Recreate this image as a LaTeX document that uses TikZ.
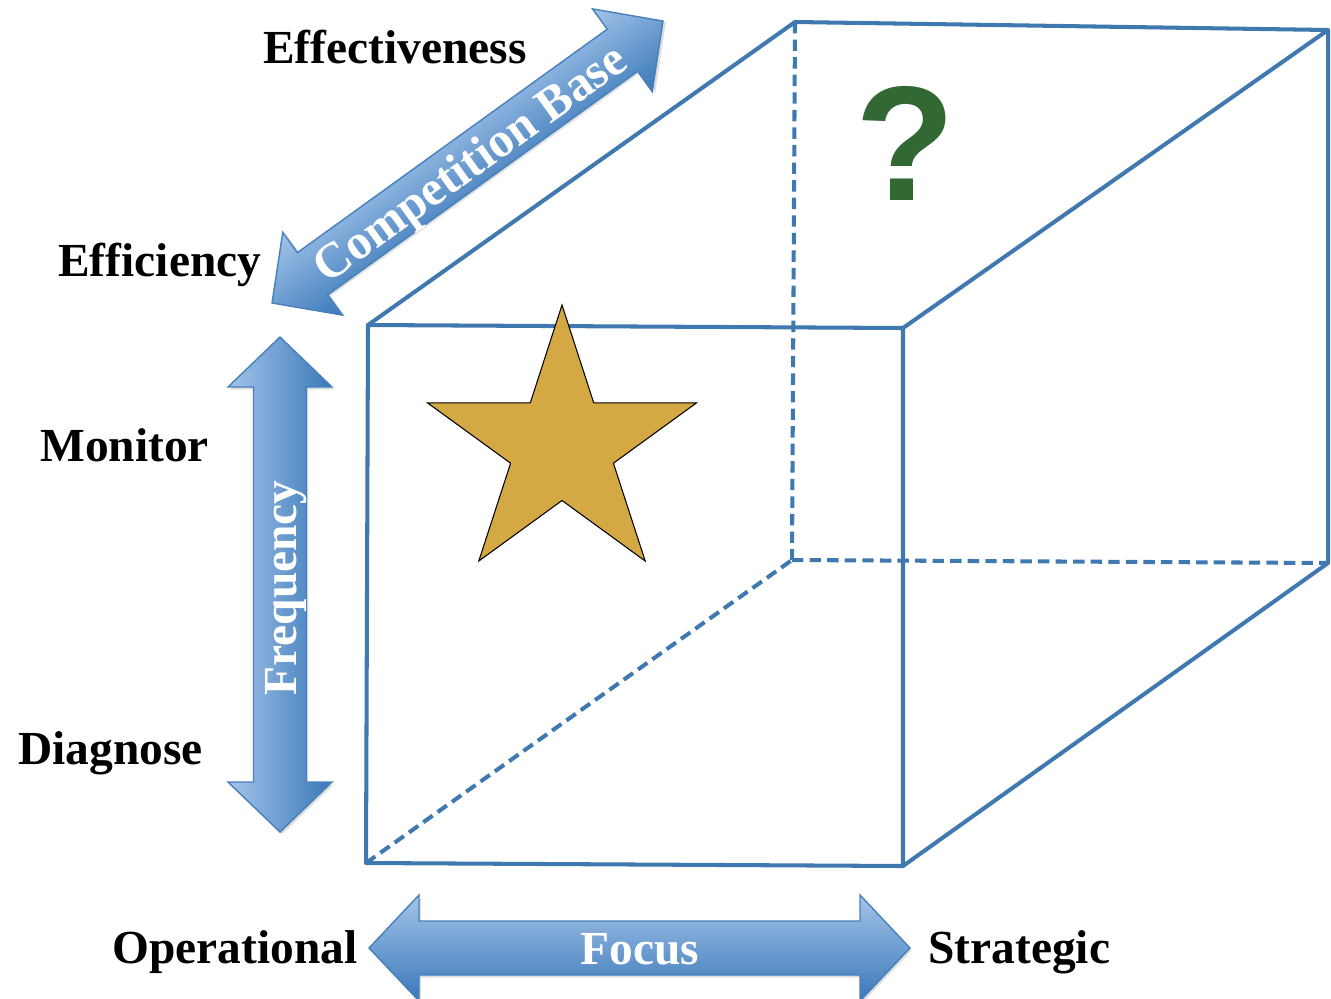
\documentclass[tikz,border=0pt]{standalone}
\usepackage{fontspec}
\setmainfont{Liberation Serif}
\newfontfamily\qfont{Liberation Sans}
\usetikzlibrary{shadows}
\definecolor{cubeblue}{RGB}{64,120,176}
\definecolor{arrlight}{RGB}{163,196,234}
\definecolor{arrdark}{RGB}{58,120,184}
\definecolor{arredge}{RGB}{72,128,188}
\definecolor{stargold}{RGB}{212,168,67}
\definecolor{qgreen}{RGB}{50,104,52}
\begin{document}
\begin{tikzpicture}[x=0.02cm,y=-0.02cm,
  edge/.style={draw=cubeblue, line width=2.3pt, line cap=round, line join=round},
  hidden/.style={draw=cubeblue, line width=2.3pt, dash pattern=on 6.5pt off 3.5pt},
  arrbody/.style={draw=arredge, line width=0.8pt, top color=arrlight, bottom color=arrdark,
    drop shadow={opacity=0.25, shadow xshift=1pt, shadow yshift=-1.5pt}},
  lbl/.style={font=\bfseries\fontsize{27}{30}\selectfont, inner sep=0pt},
  inlbl/.style={lbl, text=white},
]
\useasboundingbox (0,0) rectangle (1331,998);

% cube corners
\coordinate (f1) at (368,325);
\coordinate (f2) at (903,328);
\coordinate (f3) at (903,866);
\coordinate (f4) at (366,863);
\coordinate (b1) at (795,22);
\coordinate (b2) at (1328,30);
\coordinate (b3) at (1328,563);
\coordinate (b4) at (792,560);

% hidden edges
\draw[hidden] (b1) -- (b4);
\draw[hidden] (b4) -- (b3);
\draw[hidden] (f4) -- (b4);
% visible edges
\draw[edge] (f1) -- (f2) -- (f3) -- (f4) -- cycle;
\draw[edge] (f1) -- (b1) -- (b2) -- (b3) -- (f3);
\draw[edge] (f2) -- (b2);

% star
\draw[fill=stargold, draw=black, line width=0.6pt, line join=miter]
  (562,305) -- (530.3,402.8) -- (427.4,402.8) -- (510.6,463.2) -- (478.8,561)
  -- (562,500.5) -- (645.2,561) -- (613.4,463.2) -- (696.6,402.8) -- (593.7,402.8) -- cycle;

% question mark
\node[text=qgreen, font=\qfont\bfseries\fontsize{93}{95}\selectfont, inner sep=0pt] (q) at (905,143) {?};

% diagonal arrow (competition base)
\begin{scope}[transform canvas={shift={(467.5,162)}, rotate=35.8}]
\path[arrbody]
  (-241,0) -- (-191,51) -- (-191,26) -- (191,26) -- (191,51) -- (241,0)
  -- (191,-51) -- (191,-26) -- (-191,-26) -- (-191,-51) -- cycle;
\end{scope}
\node[inlbl, rotate=35.8, font=\bfseries\fontsize{28}{30}\selectfont] (cb) at (472,166) {Competition Base};

% vertical arrow (frequency)
\path[arrbody, shading angle=90]
  (280,337) -- (228,387) -- (253.5,387) -- (253.5,782) -- (228,782) -- (280,832)
  -- (332,782) -- (306.5,782) -- (306.5,387) -- (332,387) -- cycle;
\node[inlbl, rotate=90] (fr) at (286,588) {Frequency};

% horizontal arrow (focus)
\begin{scope}[shift={(639.5,948)}]
\path[arrbody]
  (-270.5,0) -- (-220.5,53) -- (-220.5,27) -- (220.5,27) -- (220.5,53) -- (270.5,0)
  -- (220.5,-53) -- (220.5,-27) -- (-220.5,-27) -- (-220.5,-53) -- cycle;
\end{scope}
\node[inlbl, anchor=base] (fo) at (640,964) {Focus};

% labels
\node[lbl, anchor=base west] (eff) at (263,63) {Effectiveness};
\node[lbl, anchor=base west] (efc) at (58,276) {Efficiency};
\node[lbl, anchor=base west] (mon) at (40,461) {Monitor};
\node[lbl, anchor=base west] (dia) at (18,764) {Diagnose};
\node[lbl, anchor=base west] (op) at (112,963) {Operational};
\node[lbl, anchor=base west] (st) at (928,963) {Strategic};
\end{tikzpicture}
\end{document}
